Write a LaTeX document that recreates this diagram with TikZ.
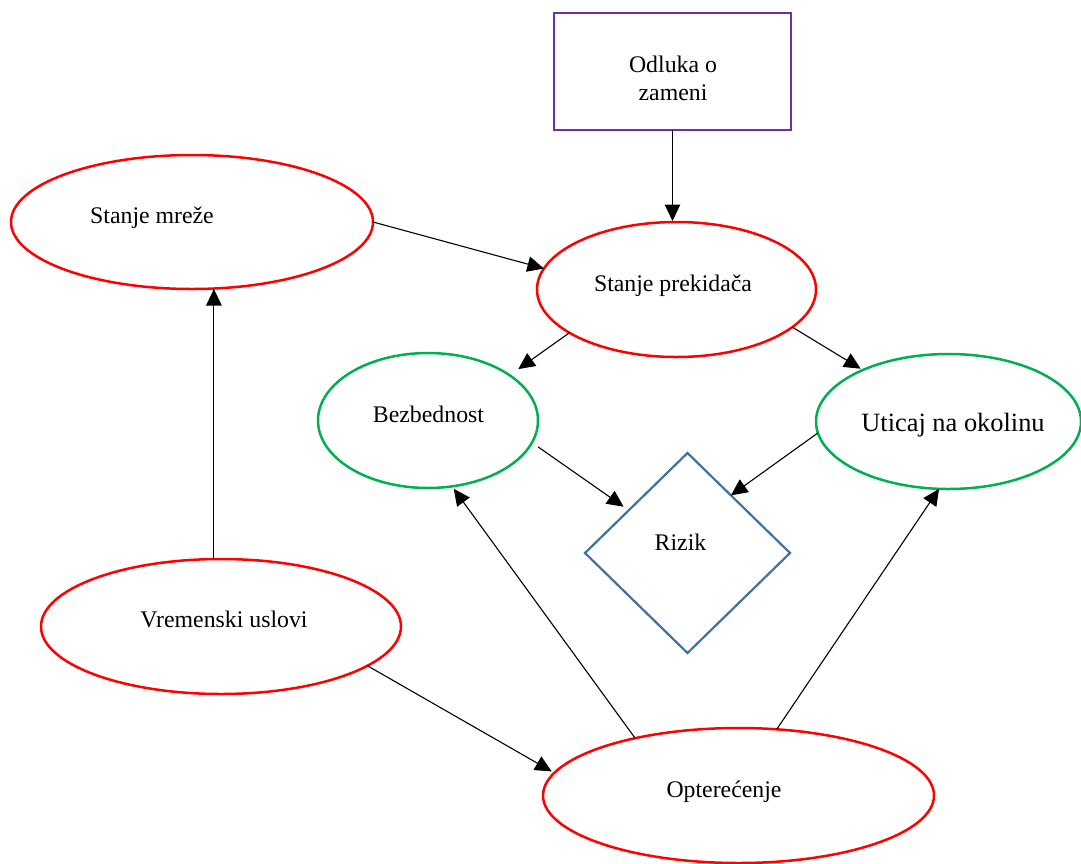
\documentclass[tikz,border=0pt]{standalone}
\usepackage{fontspec}
\setmainfont{Liberation Serif}
\usetikzlibrary{shapes.geometric,arrows.meta}
\definecolor{redE}{HTML}{FF0000}
\definecolor{greenE}{HTML}{00B050}
\definecolor{blueD}{HTML}{41719C}
\definecolor{purpleB}{HTML}{7030A0}
\begin{document}
\begin{tikzpicture}[x=1pt,y=-1pt,
  redell/.style={ellipse, draw=redE, line width=2.5pt, inner sep=0pt, outer sep=0pt},
  greenell/.style={ellipse, draw=greenE, line width=2.5pt, inner sep=0pt, outer sep=0pt},
  lbl/.style={anchor=base, inner sep=0pt, font=\fontsize{23.8}{27.3}\selectfont},
  arr/.style={-{Triangle[length=16.5pt,width=15.5pt]}, line width=1.1pt, black}]
\useasboundingbox (0,0) rectangle (1081,863);
\fill[white] (0,0) rectangle (1081,863);

% shapes
\node[draw=purpleB, line width=2.6pt, minimum width=237pt, minimum height=117pt, inner sep=0pt, outer sep=0pt] (odluka) at (672.5,71.5) {};
\node[redell, minimum width=362pt, minimum height=134pt] (mreze) at (192,222) {};
\node[redell, minimum width=279pt, minimum height=135pt] (prek) at (676.5,289.5) {};
\node[greenell, minimum width=220pt, minimum height=135pt] (bez) at (428,420.5) {};
\node[greenell, minimum width=265pt, minimum height=135pt] (utic) at (948.5,421.5) {};
\node[diamond, draw=blueD, line width=2.2pt, minimum width=205pt, minimum height=200pt, inner sep=0pt, outer sep=0pt] (rizik) at (687.5,553) {};
\node[redell, minimum width=360pt, minimum height=135pt] (vrem) at (221,626.5) {};
\node[redell, minimum width=391pt, minimum height=135pt] (opt) at (738.5,795.5) {};

% texts
\node[inner sep=0pt, align=center, font=\fontsize{23.8}{27.3}\selectfont] (odlukaT) at (673,78.5) {Odluka o\\zameni};
\node[lbl] (mrezeT) at (152,223) {Stanje mreže};
\node[lbl] (prekT) at (673,291) {Stanje prekidača};
\node[lbl] (bezT) at (428.5,422) {Bezbednost};
\node[lbl, font=\fontsize{26.4}{30}\selectfont] (uticT) at (953,431) {Uticaj na okolinu};
\node[lbl] (rizikT) at (680.5,550) {Rizik};
\node[lbl] (vremT) at (224,627) {Vremenski uslovi};
\node[lbl] (optT) at (724,797) {Opterećenje};

% connectors
\draw[arr, shorten >=1pt] (odluka.south) -- (odluka.south |- prek.north);
\draw[arr] (mreze.-0.6) -- (prek.171.1);
\draw[arr, shorten >=10.6pt] (prek.202.7) -- (bez.29.3);
\draw[arr, shorten >=2.5pt] (prek.-18) -- (utic.149.4);
\draw[arr, shorten <=7.5pt, shorten >=6.3pt] (bez.-12.1) -- (rizik.144.5);
\draw[arr] (utic.185.4) -- (rizik.53.3);
\draw[arr] (vrem.96.8) -- (vrem.96.8 |- mreze.south);
\draw[arr, shorten >=3pt] (vrem.-15.1) -- (opt.173.6);
\draw[arr, shorten >=3pt] (opt.151.2) -- (bez.-70.7);
\draw[arr] (opt.60.9) -- (utic.-98.1);
\end{tikzpicture}
\end{document}
